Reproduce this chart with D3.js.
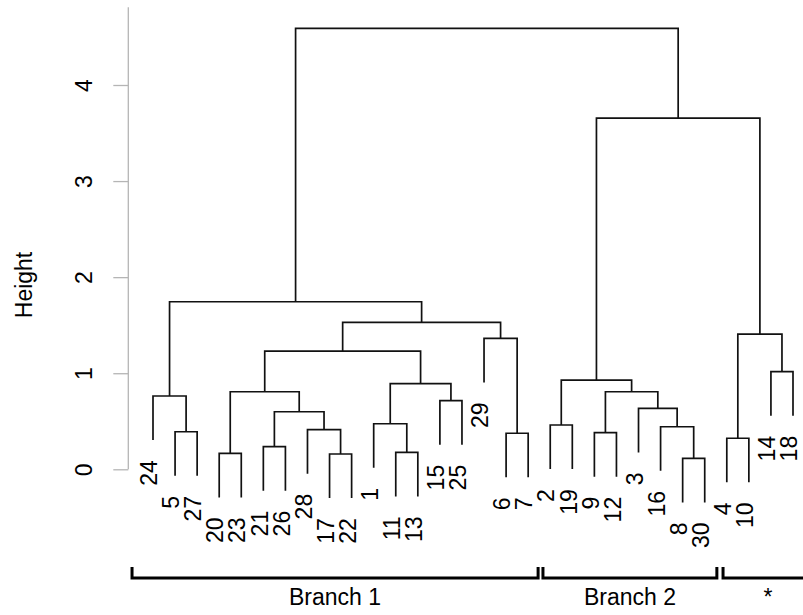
<!DOCTYPE html>
<html>
<head>
<meta charset="utf-8">
<script src="https://cdn.jsdelivr.net/npm/d3@7"></script>
<style>
  body { margin: 0; background: #fff; }
  svg { display: block; font-family: "Liberation Sans", Arial, sans-serif; }
</style>
</head>
<body>
<svg width="803" height="615"></svg>
<script>
const width = 803, height = 615;
const fs = 23;

// leaf labels in plotting order
const leafOrder = [24, 5, 27, 20, 23, 21, 26, 28, 17, 22, 1, 11, 13, 15, 25, 29, 6, 7, 2, 19, 9, 12, 3, 16, 8, 30, 4, 10, 14, 18];

// hclust-style merges: negative = leaf label, positive = earlier merge (1-based)
const mergeLeft  = [-8, -17, -20, -11, -21, -4, -6, -9, -5, -28, -16, -2, -1, 5, -3, -15, -24, 3, 8, 13, 12, -14, 18, -29, 6, 23, 17, 21, 27];
const mergeRight = [-30, -22, -23, -13, -26, -10, -7, -12, -27, 2, 1, -19, 4, 10, 11, -25, 9, 14, 15, 16, 19, -18, 20, 7, 22, 24, 26, 25, 28];
const mergeHeight = [0.114, 0.159, 0.166, 0.177, 0.235, 0.323, 0.375, 0.381, 0.391, 0.412, 0.443, 0.461, 0.474, 0.599, 0.635, 0.714, 0.763, 0.807, 0.807, 0.891, 0.929, 1.016, 1.231, 1.363, 1.408, 1.530, 1.744, 3.655, 4.590];

// brackets under the leaves, in leaf-index units
const branchLabels = ["Branch 1", "Branch 2", "*"];
const branchStart = [-0.95, 17.67, 25.83];
const branchEnd   = [17.45, 25.55, 29.9];

const yTicks = [0, 1, 2, 3, 4];
const hang = 0.1;

const svg = d3.select("svg");
const x = d3.scaleLinear().domain([0, leafOrder.length - 1]).range([153, 793]);
const y = d3.scaleLinear().domain([0, 4]).range([469.3, 85]);

const maxH = d3.max(mergeHeight);
const leafPos = new Map(leafOrder.map((d, i) => [d, i]));

// compute positions for merges
const nodeX = [], nodeH = [];
mergeHeight.forEach((h, i) => {
  const cx = c => c < 0 ? x(leafPos.get(-c)) : nodeX[c - 1];
  nodeX[i] = (cx(mergeLeft[i]) + cx(mergeRight[i])) / 2;
  nodeH[i] = h;
});

const leafBottom = {};
const g = svg.append("g");
mergeHeight.forEach((h, i) => {
  const kids = [mergeLeft[i], mergeRight[i]].map(c => {
    if (c < 0) {
      const lb = h - hang * maxH;
      leafBottom[-c] = lb;
      return [x(leafPos.get(-c)), y(lb)];
    }
    return [nodeX[c - 1], y(nodeH[c - 1])];
  });
  g.append("path")
    .attr("d", `M${kids[0][0]},${kids[0][1]}V${y(h)}H${kids[1][0]}V${kids[1][1]}`)
    .attr("fill", "none")
    .attr("stroke", "#111")
    .attr("stroke-width", 1.7);
});

// leaf labels
g.selectAll("text.leaf")
  .data(leafOrder)
  .enter()
  .append("text")
  .attr("class", "leaf")
  .attr("transform", d => `translate(${x(leafPos.get(d)) + 4.2},${y(leafBottom[d]) + 20}) rotate(-90)`)
  .attr("text-anchor", "end")
  .attr("font-size", fs)
  .attr("fill", "#000")
  .text(d => d);

// y axis
const axis = svg.append("g")
  .attr("transform", "translate(128.3,0)")
  .call(d3.axisLeft(y).tickValues(yTicks).tickSize(15).tickSizeOuter(0).tickFormat(d3.format("d")));
axis.select(".domain").attr("d", `M0,${y(0)}V${y(4.81)}`).attr("stroke", "#b5b5b5").attr("stroke-width", 1.3);
axis.selectAll(".tick line").attr("stroke", "#b5b5b5").attr("stroke-width", 1.3);
axis.selectAll(".tick text")
  .attr("x", null).attr("dy", null).attr("y", 0)
  .attr("transform", "translate(-36.6,0) rotate(-90)")
  .attr("text-anchor", "middle")
  .attr("font-size", fs)
  .attr("font-family", "Liberation Sans, Arial, sans-serif")
  .attr("fill", "#000");

svg.append("text")
  .attr("transform", "translate(32.2,285) rotate(-90)")
  .attr("text-anchor", "middle")
  .attr("font-size", fs)
  .text("Height");

// branch brackets
const by = 578, tickUp = 11;
branchLabels.forEach((lab, i) => {
  const x0 = x(branchStart[i]), x1 = x(branchEnd[i]);
  svg.append("path")
    .attr("d", `M${x0},${by - tickUp}V${by}H${x1}V${by - tickUp}`)
    .attr("fill", "none")
    .attr("stroke", "#000")
    .attr("stroke-width", 3);
  svg.append("text")
    .attr("x", (x0 + x1) / 2)
    .attr("y", 605)
    .attr("text-anchor", "middle")
    .attr("font-size", fs)
    .text(lab);
});
</script>
</body>
</html>
